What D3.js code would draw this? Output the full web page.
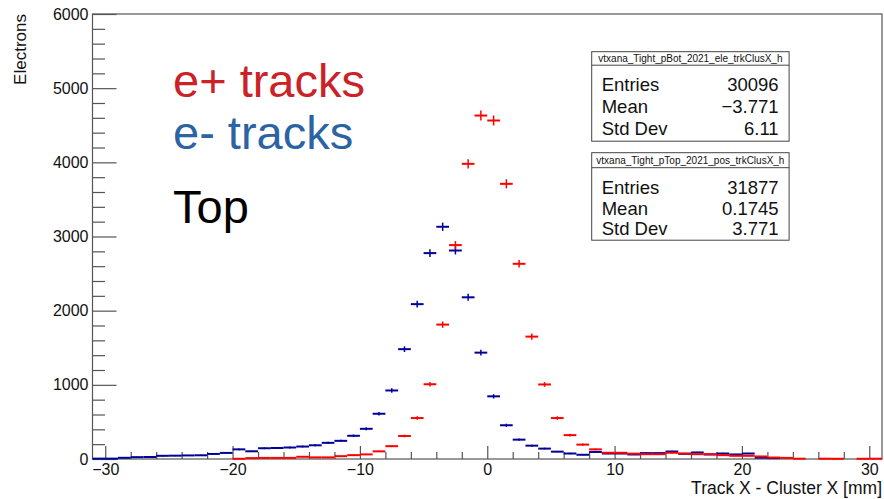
<!DOCTYPE html>
<html>
<head>
<meta charset="utf-8">
<script src="https://cdn.jsdelivr.net/npm/d3@7"></script>
<style>
  body { margin: 0; background: #fff; }
  text { font-family: "Liberation Sans", Arial, sans-serif; }
</style>
</head>
<body>
<svg id="chart" width="884" height="499"></svg>
<script>
// Bin lower edges, 1 mm wide bins from -31 to 31
const binEdges = d3.range(-31, 31);

// e- tracks (pBot ele), counts per bin
const eleCounts = [5, 5, 16, 25, 27, 43, 45, 48, 50, 68, 82, 130, 104, 145, 148, 155, 168, 185, 218, 245,
  313, 407, 610, 924, 1481, 2088, 2776, 3131, 2811, 2180, 1434, 845, 455, 261, 180, 140, 99, 74, 57, 95,
  74, 74, 61, 79, 79, 101, 70, 88, 61, 74, 61, 74, 18, 12, 0, 0, 0, 0, 0, 0, 0, 0];

// e+ tracks (pTop pos), counts per bin
const posCounts = [0, 0, 0, 0, 0, 0, 0, 0, 0, 0, 0, 3, 12, 15, 15, 15, 30, 22, 22, 38,
  52, 62, 103, 173, 310, 552, 1008, 1812, 2884, 3980, 4631, 4564, 3710, 2632, 1650, 1005, 552, 322, 194, 130,
  84, 84, 72, 65, 65, 84, 74, 65, 65, 52, 43, 43, 34, 20, 15, 4, 0, 4, 3, 0, 3, 4];

// Tick values
const xMajorTicks = [-30, -20, -10, 0, 10, 20, 30];
const xMinorTicks = d3.range(-30, 31, 2).filter(v => v % 10 !== 0);
const yMajorTicks = d3.range(0, 6001, 1000);
const yMinorTicks = d3.range(0, 6001, 200).filter(v => v % 1000 !== 0);

// Stat boxes
const statBoxes = [
  { title: "vtxana_Tight_pBot_2021_ele_trkClusX_h", rows: [["Entries", "30096"], ["Mean", "\u22123.771"], ["Std Dev", "6.11"]] },
  { title: "vtxana_Tight_pTop_2021_pos_trkClusX_h", rows: [["Entries", "31877"], ["Mean", "0.1745"], ["Std Dev", "3.771"]] }
];

const svg = d3.select("#chart");
const plot = { left: 92.5, right: 882, top: 14, bottom: 459 };

const x = d3.scaleLinear().domain([-31, 31]).range([plot.left, plot.right]);
const y = d3.scaleLinear().domain([0, 6000]).range([plot.bottom, plot.top]);

const axisColor = "#555";

// Frame
svg.append("rect")
  .attr("x", plot.left).attr("y", plot.top)
  .attr("width", plot.right - plot.left).attr("height", plot.bottom - plot.top)
  .attr("fill", "none").attr("stroke", axisColor).attr("stroke-width", 1.2);

// X axis: major + minor ticks pointing into the plot
svg.append("g")
  .attr("transform", `translate(0,${plot.bottom})`)
  .call(d3.axisBottom(x).tickValues(xMajorTicks).tickSize(-13).tickPadding(5));
svg.append("g")
  .attr("transform", `translate(0,${plot.bottom})`)
  .call(d3.axisBottom(x).tickValues(xMinorTicks).tickSize(-7).tickFormat(""));

// Y axis
svg.append("g")
  .attr("transform", `translate(${plot.left},0)`)
  .call(d3.axisLeft(y).tickValues(yMajorTicks).tickSize(-24).tickPadding(4).tickFormat(d3.format("d")));
svg.append("g")
  .attr("transform", `translate(${plot.left},0)`)
  .call(d3.axisLeft(y).tickValues(yMinorTicks).tickSize(-12.5).tickFormat(""));

svg.selectAll(".domain").remove();
svg.selectAll(".tick line").attr("stroke", axisColor).attr("stroke-width", 1.2);
svg.selectAll(".tick text")
  .attr("fill", "#111")
  .style("font-family", "'Liberation Sans', Arial, sans-serif")
  .style("font-size", "16px");

// Axis titles
svg.append("text")
  .attr("x", 882).attr("y", 494)
  .attr("text-anchor", "end")
  .style("font-size", "17.5px")
  .attr("fill", "#111")
  .text("Track X - Cluster X [mm]");

svg.append("text")
  .attr("transform", "rotate(-90)")
  .attr("x", -14).attr("y", 26)
  .attr("text-anchor", "end")
  .style("font-size", "17px")
  .attr("fill", "#111")
  .text("Electrons");

// Histogram drawn as bin-wide horizontal bars with sqrt(N) error bars
const drawHist = (counts, color) => {
  const bins = binEdges.map((lo, i) => ({ lo, v: counts[i] })).filter(d => d.v > 0);
  const g = svg.append("g");
  g.selectAll(".bar")
    .data(bins)
    .enter()
    .append("line")
    .attr("x1", d => x(d.lo)).attr("x2", d => x(d.lo + 1))
    .attr("y1", d => y(d.v)).attr("y2", d => y(d.v))
    .attr("stroke", color).attr("stroke-width", 2);
  g.selectAll(".err")
    .data(bins)
    .enter()
    .append("line")
    .attr("x1", d => x(d.lo + 0.5)).attr("x2", d => x(d.lo + 0.5))
    .attr("y1", d => y(d.v - Math.sqrt(d.v))).attr("y2", d => y(d.v + Math.sqrt(d.v)))
    .attr("stroke", color).attr("stroke-width", 1.5);
};

drawHist(eleCounts, "#000099");
drawHist(posCounts, "#ff0000");

// Big labels
const labels = [
  { text: "e+ tracks", y: 97, color: "#cc2127" },
  { text: "e- tracks", y: 149, color: "#2c63a2" },
  { text: "Top", y: 223, color: "#000" }
];
svg.selectAll(".biglabel")
  .data(labels)
  .enter()
  .append("text")
  .attr("x", 173).attr("y", d => d.y)
  .attr("fill", d => d.color)
  .style("font-size", "47px")
  .text(d => d.text);

// Stat boxes (top, height, title row and text rows per box)
const boxLayout = [
  { top: 51.7, height: 89.5, titleH: 13.5, firstRow: 39.5, rowH: 22 },
  { top: 152.7, height: 87.5, titleH: 15, firstRow: 41.3, rowH: 20.7 }
];
statBoxes.forEach((box, i) => {
  const bx = 591.7, bw = 197.4;
  const { top: by, height: bh, titleH, firstRow, rowH } = boxLayout[i];
  const g = svg.append("g");
  g.append("rect")
    .attr("x", bx).attr("y", by).attr("width", bw).attr("height", bh)
    .attr("fill", "#fff").attr("stroke", "#444").attr("stroke-width", 1);
  g.append("line")
    .attr("x1", bx).attr("x2", bx + bw)
    .attr("y1", by + titleH).attr("y2", by + titleH)
    .attr("stroke", "#444").attr("stroke-width", 1);
  g.append("text")
    .attr("x", bx + bw / 2).attr("y", by + titleH - 3.5)
    .attr("text-anchor", "middle")
    .style("font-size", "10px")
    .attr("fill", "#111")
    .text(box.title);
  box.rows.forEach((r, j) => {
    const ty = by + firstRow + j * rowH;
    g.append("text").attr("x", bx + 10).attr("y", ty)
      .style("font-size", "18.5px").attr("fill", "#111").text(r[0]);
    g.append("text").attr("x", bx + bw - 10.5).attr("y", ty)
      .attr("text-anchor", "end")
      .style("font-size", "18.5px").attr("fill", "#111").text(r[1]);
  });
});
</script>
</body>
</html>
